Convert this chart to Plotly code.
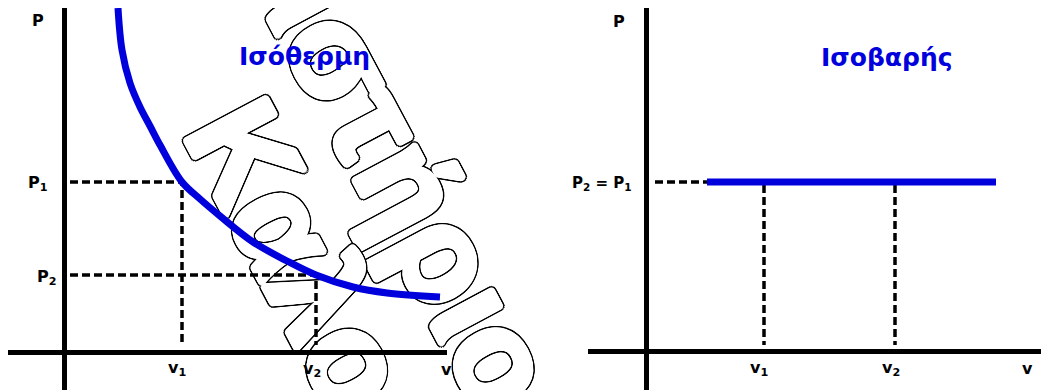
"""
P-V diagrams: isothermal (Ισόθερμη) and isobaric (Ισοβαρής) change.
"""

import math
import plotly.graph_objects as go

# --- data (arbitrary units) ---
# isothermal curve
iso_t_v = [5.4, 5.8, 6.6, 7.6, 8.6, 9.6, 11.8, 13.6, 15.6, 18.9, 22.3, 25.2, 28.9, 32.3, 37.6]
iso_t_p = [34.4, 30.2, 26.9, 24.5, 22.6, 20.7, 17.0, 15.3, 13.6, 11.0, 9.1, 7.7, 6.5, 5.9, 5.5]
iso_t_states = {'v1': 11.8, 'v2': 25.2, 'p1': 17.0, 'p2': 7.7}

# isobaric line
iso_p_v = [6.1, 35.0]
iso_p_p = [16.9, 16.9]
iso_p_states = {'v1': 11.8, 'v2': 24.9, 'p': 16.9}

titles = ['Ισόθερμη', 'Ισοβαρής']
watermark = ['Φροντιστήριο', 'Καλοσ']

BLUE = '#0000dd'
LABEL_FONT = dict(family='DejaVu Sans, sans-serif', size=16, color='black', weight='bold')

# the page body keeps its default 8px margin, so the figure is made that much
# smaller and every pixel position below is given in window pixels
OFF = 8
W, H = 1049 - OFF, 390 - OFF


def px_x(px):
    return max(0, (px - OFF) / W)


def px_y(py):
    return min(1, 1 - (py - OFF) / H)


def dashed(fig, xs, ys, xa, ya):
    fig.add_trace(go.Scatter(
        x=xs, y=ys, mode='lines', xaxis=xa, yaxis=ya,
        line=dict(color='black', width=3.5, dash='8px,4px'),
        hoverinfo='skip', showlegend=False
    ))


def label(fig, text, x, y, xref, yref, font=LABEL_FONT):
    fig.add_annotation(text=text, x=x, y=y, xref=xref, yref=yref,
                       showarrow=False, font=font)


def ring(radius, color, steps=16):
    # a circle of shifted copies, used to fatten the glyphs and outline them
    out = []
    for i in range(steps):
        a = 2 * math.pi * i / steps
        out.append(f'{radius * math.cos(a):.1f}px {radius * math.sin(a):.1f}px 0 {color}')
    return out


def build_figure():
    fig = go.Figure()

    # ---------- left: isothermal ----------
    s = iso_t_states
    dashed(fig, [0.6, s['v1'], s['v1']], [s['p1'], s['p1'], 0.7], 'x', 'y')
    dashed(fig, [0.6, s['v2'], s['v2']], [s['p2'], s['p2'], 0.7], 'x', 'y')
    fig.add_trace(go.Scatter(
        x=iso_t_v, y=iso_t_p, mode='lines', xaxis='x', yaxis='y',
        line=dict(color=BLUE, width=7, shape='spline', smoothing=1),
        hoverinfo='skip', showlegend=False
    ))

    # ---------- right: isobaric ----------
    s = iso_p_states
    dashed(fig, [0.9, iso_p_v[0]], [s['p'], s['p']], 'x2', 'y2')
    dashed(fig, [s['v1'], s['v1']], [s['p'] - 0.3, 0.6], 'x2', 'y2')
    dashed(fig, [s['v2'], s['v2']], [s['p'] - 0.3, 0.6], 'x2', 'y2')
    fig.add_trace(go.Scatter(
        x=iso_p_v, y=iso_p_p, mode='lines', xaxis='x2', yaxis='y2',
        line=dict(color=BLUE, width=7),
        hoverinfo='skip', showlegend=False
    ))

    # ---------- axis labels ----------
    s = iso_t_states
    label(fig, 'P', -2.6, 33.2, 'x', 'y')
    label(fig, 'P<sub>1</sub>', -2.6, s['p1'] - 0.1, 'x', 'y')
    label(fig, 'P<sub>2</sub>', -1.7, s['p2'] - 0.2, 'x', 'y')
    label(fig, 'v<sub>1</sub>', s['v1'] - 0.5, -1.6, 'x', 'y')
    label(fig, 'v<sub>2</sub>', s['v2'] - 0.4, -1.7, 'x', 'y')
    label(fig, 'v', 38.2, -1.7, 'x', 'y')

    s = iso_p_states
    label(fig, 'P', -2.7, 33.0, 'x2', 'y2')
    label(fig, 'P<sub>2</sub> = P<sub>1</sub>', -4.4, s['p'] - 0.1, 'x2', 'y2',
          dict(LABEL_FONT, size=15))
    label(fig, 'v<sub>1</sub>', s['v1'] - 0.5, -1.7, 'x2', 'y2')
    label(fig, 'v<sub>2</sub>', s['v2'] - 0.4, -1.7, 'x2', 'y2')
    label(fig, 'v', 38.1, -1.7, 'x2', 'y2')

    title_font = dict(family='DejaVu Sans, sans-serif', size=25, color=BLUE, weight='bold')
    label(fig, titles[0], 24.0, 29.6, 'x', 'y', title_font)
    label(fig, titles[1], 24.1, 29.4, 'x2', 'y2', title_font)

    # ---------- outlined watermark, behind everything ----------
    # white copies fatten the letters, black copies further out give the outline
    shadow = ', '.join(ring(3.0, '#fff') + ring(1.5, '#fff', 8) + ring(4.5, '#000') + ring(4.0, '#000'))
    wm_font = dict(family='Liberation Sans, Arial, sans-serif', size=132, color='white',
                   weight='bold', shadow=shadow)
    for text, cx, cy in [(watermark[0], 329, -51), (watermark[1], 331, 289)]:
        fig.add_shape(
            type='rect', xref='paper', yref='paper', layer='below',
            x0=px_x(cx - 1), x1=px_x(cx + 1), y0=px_y(cy + 1), y1=px_y(cy - 1),
            line=dict(width=0), fillcolor='rgba(0,0,0,0)',
            label=dict(text=f'<b>{text}</b>', textangle=62,
                       textposition='middle center', font=wm_font)
        )

    axis_common = dict(showgrid=False, showticklabels=False, ticks='',
                       zeroline=True, zerolinewidth=5, zerolinecolor='black',
                       showline=False, fixedrange=True)
    fig.update_layout(
        width=W, height=H,
        margin=dict(l=0, r=0, t=0, b=0),
        paper_bgcolor='white', plot_bgcolor='rgba(0,0,0,0)',
        showlegend=False,
        xaxis=dict(domain=[px_x(8), px_x(447)], range=[-5.6, 38.3], anchor='y', **axis_common),
        yaxis=dict(domain=[px_y(390), px_y(8)], range=[-3.8, 34.4], anchor='x', **axis_common),
        xaxis2=dict(domain=[px_x(588), px_x(1049)], range=[-5.8, 40.3], anchor='y2', **axis_common),
        yaxis2=dict(domain=[px_y(390), px_y(8)], range=[-3.9, 34.3], anchor='x2', **axis_common),
    )
    return fig


if __name__ == "__main__":
    fig = build_figure()
    fig.write_html("out.html")
